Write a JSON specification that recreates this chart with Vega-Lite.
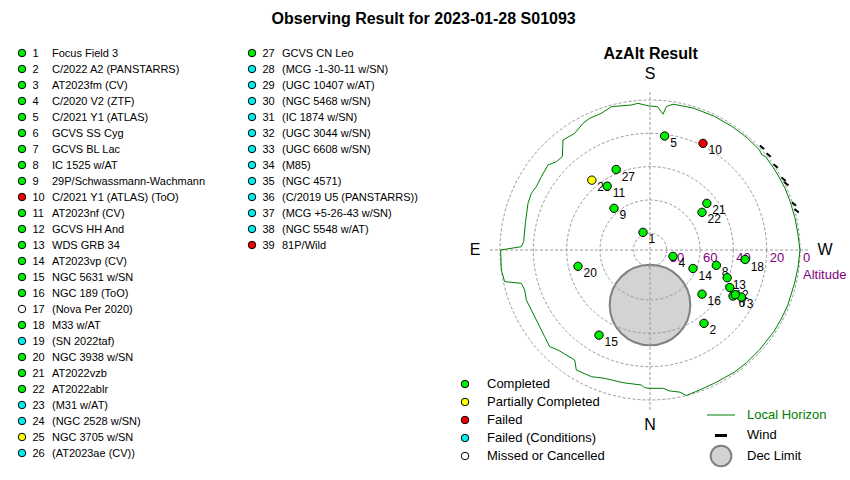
{
  "$schema": "https://vega.github.io/schema/vega-lite/v6.json",
  "width": 850,
  "height": 480,
  "autosize": {"type": "fit", "contains": "padding"},
  "padding": 0,
  "background": "white",
  "config": {"view": {"stroke": null}, "axis": {"disable": true}, "font": "Liberation Sans"},
  "datasets": {
    "rings": [{"x": 0, "y": 0, "zd": 10}, {"x": 0, "y": 0, "zd": 30}, {"x": 0, "y": 0, "zd": 50}, {"x": 0, "y": 0, "zd": 70}, {"x": 0, "y": 0, "zd": 90}],
    "cross": [{"x": -96, "y": 0, "x2": 96, "y2": 0}, {"x": 0, "y": -96, "x2": 0, "y2": 96}],
    "horizon": [
      {"i": 0, "x": -89.6, "y": 0}, {"i": 1, "x": -77.2, "y": 2}, {"i": 2, "x": -75.8, "y": 5}, {"i": 3, "x": -74.8, "y": 16},
      {"i": 4, "x": -73.2, "y": 28}, {"i": 5, "x": -71.2, "y": 34}, {"i": 6, "x": -68.2, "y": 38}, {"i": 7, "x": -65.2, "y": 44},
      {"i": 8, "x": -61.2, "y": 51}, {"i": 9, "x": -56.2, "y": 53}, {"i": 10, "x": -52.6, "y": 56}, {"i": 11, "x": -52.2, "y": 66},
      {"i": 12, "x": -45.2, "y": 70}, {"i": 13, "x": -40.2, "y": 76}, {"i": 14, "x": -36.2, "y": 79}, {"i": 15, "x": -29.2, "y": 82},
      {"i": 16, "x": -23.2, "y": 86}, {"i": 17, "x": -11.2, "y": 87}, {"i": 18, "x": -7.2, "y": 88}, {"i": 19, "x": -1, "y": 86.5},
      {"i": 20, "x": 4.5, "y": 86}, {"i": 21, "x": 7.8, "y": 81.5}, {"i": 22, "x": 9.8, "y": 86}, {"i": 23, "x": 13.8, "y": 87.5},
      {"i": 24, "x": 25.8, "y": 85.2}, {"i": 25, "x": 38.5, "y": 80.3}, {"i": 26, "x": 49.7, "y": 73.8}, {"i": 27, "x": 57.8, "y": 67.7},
      {"i": 28, "x": 65.5, "y": 60.3}, {"i": 29, "x": 67.3, "y": 57.0}, {"i": 30, "x": 69.2, "y": 56.2}, {"i": 31, "x": 73.8, "y": 49.7},
      {"i": 32, "x": 77.5, "y": 43.7}, {"i": 33, "x": 81.1, "y": 36.8}, {"i": 34, "x": 84.1, "y": 29.1}, {"i": 35, "x": 86.9, "y": 19.6},
      {"i": 36, "x": 88.7, "y": 9.9}, {"i": 37, "x": 90, "y": 0}, {"i": 38, "x": 88.9, "y": -9.9}, {"i": 39, "x": 86.8, "y": -19.8},
      {"i": 40, "x": 82.5, "y": -33.5}, {"i": 41, "x": 78.7, "y": -41.4}, {"i": 42, "x": 74.3, "y": -49}, {"i": 43, "x": 65.6, "y": -60},
      {"i": 44, "x": 57.8, "y": -67.7}, {"i": 45, "x": 50.6, "y": -73.3}, {"i": 46, "x": 39.5, "y": -79.5}, {"i": 47, "x": 29.8, "y": -84},
      {"i": 48, "x": 21.8, "y": -87.3}, {"i": 49, "x": 18, "y": -85.3}, {"i": 50, "x": 11.5, "y": -84.5}, {"i": 51, "x": 8, "y": -83},
      {"i": 52, "x": -0.2, "y": -83}, {"i": 53, "x": -3.2, "y": -82.6}, {"i": 54, "x": -5.2, "y": -81}, {"i": 55, "x": -13.2, "y": -80},
      {"i": 56, "x": -16.2, "y": -79.6}, {"i": 57, "x": -27.2, "y": -77}, {"i": 58, "x": -35.2, "y": -76}, {"i": 59, "x": -44.2, "y": -72},
      {"i": 60, "x": -45.2, "y": -66}, {"i": 61, "x": -55.2, "y": -60}, {"i": 62, "x": -60.2, "y": -58}, {"i": 63, "x": -63.2, "y": -52},
      {"i": 64, "x": -67.2, "y": -44}, {"i": 65, "x": -71.2, "y": -36}, {"i": 66, "x": -74.2, "y": -30}, {"i": 67, "x": -75.2, "y": -24},
      {"i": 68, "x": -77.2, "y": -20}, {"i": 69, "x": -87.2, "y": -19}, {"i": 70, "x": -89.2, "y": -12}, {"i": 71, "x": -89.6, "y": 0}
    ],
    "wind": [{"x": 67.2, "y": 61.6}, {"x": 71.2, "y": 57}, {"x": 75.4, "y": 50.4}, {"x": 80.2, "y": 42.4}, {"x": 81.8, "y": 39.8}, {"x": 86.4, "y": 27.6}, {"x": 88, "y": 23.6}],
    "targets": [
      {"id": 1, "x": -4.2, "y": 10.6, "status": "Completed"},
      {"id": 2, "x": 32.4, "y": -44, "status": "Completed"},
      {"id": 3, "x": 54.8, "y": -28.2, "status": "Completed"},
      {"id": 4, "x": 13.8, "y": -3.8, "status": "Completed"},
      {"id": 5, "x": 8.8, "y": 68.4, "status": "Completed"},
      {"id": 6, "x": 49.8, "y": -27.6, "status": "Completed"},
      {"id": 7, "x": 51.2, "y": -26.8, "status": "Completed"},
      {"id": 8, "x": 39.8, "y": -9.2, "status": "Completed"},
      {"id": 9, "x": -21.6, "y": 25, "status": "Completed"},
      {"id": 10, "x": 31.8, "y": 64, "status": "Failed"},
      {"id": 11, "x": -25.7, "y": 38.3, "status": "Completed"},
      {"id": 12, "x": 47.9, "y": -22.5, "status": "Completed"},
      {"id": 13, "x": 46.3, "y": -16.6, "status": "Completed"},
      {"id": 14, "x": 25.8, "y": -11.1, "status": "Completed"},
      {"id": 15, "x": -30.6, "y": -51.1, "status": "Completed"},
      {"id": 16, "x": 31.2, "y": -26.5, "status": "Completed"},
      {"id": 18, "x": 57.1, "y": -5.7, "status": "Completed"},
      {"id": 20, "x": -43.2, "y": -9.8, "status": "Completed"},
      {"id": 21, "x": 34.1, "y": 28, "status": "Completed"},
      {"id": 22, "x": 31.2, "y": 22.6, "status": "Completed"},
      {"id": 25, "x": -34.9, "y": 41.9, "status": "Partially Completed"},
      {"id": 27, "x": -20.3, "y": 48.3, "status": "Completed"}
    ],
    "list": [
      {"id": 1, "name": "Focus Field 3", "status": "Completed", "col": 0, "row": 0},
      {"id": 2, "name": "C/2022 A2 (PANSTARRS)", "status": "Completed", "col": 0, "row": 1},
      {"id": 3, "name": "AT2023fm (CV)", "status": "Completed", "col": 0, "row": 2},
      {"id": 4, "name": "C/2020 V2 (ZTF)", "status": "Completed", "col": 0, "row": 3},
      {"id": 5, "name": "C/2021 Y1 (ATLAS)", "status": "Completed", "col": 0, "row": 4},
      {"id": 6, "name": "GCVS SS Cyg", "status": "Completed", "col": 0, "row": 5},
      {"id": 7, "name": "GCVS BL Lac", "status": "Completed", "col": 0, "row": 6},
      {"id": 8, "name": "IC 1525 w/AT", "status": "Completed", "col": 0, "row": 7},
      {"id": 9, "name": "29P/Schwassmann-Wachmann", "status": "Completed", "col": 0, "row": 8},
      {"id": 10, "name": "C/2021 Y1 (ATLAS) (ToO)", "status": "Failed", "col": 0, "row": 9},
      {"id": 11, "name": "AT2023nf (CV)", "status": "Completed", "col": 0, "row": 10},
      {"id": 12, "name": "GCVS HH And", "status": "Completed", "col": 0, "row": 11},
      {"id": 13, "name": "WDS GRB 34", "status": "Completed", "col": 0, "row": 12},
      {"id": 14, "name": "AT2023vp (CV)", "status": "Completed", "col": 0, "row": 13},
      {"id": 15, "name": "NGC 5631 w/SN", "status": "Completed", "col": 0, "row": 14},
      {"id": 16, "name": "NGC 189 (ToO)", "status": "Completed", "col": 0, "row": 15},
      {"id": 17, "name": "\u00a0(Nova Per 2020)", "status": "Missed or Cancelled", "col": 0, "row": 16},
      {"id": 18, "name": "M33 w/AT", "status": "Completed", "col": 0, "row": 17},
      {"id": 19, "name": "\u00a0(SN 2022taf)", "status": "Failed (Conditions)", "col": 0, "row": 18},
      {"id": 20, "name": "NGC 3938 w/SN", "status": "Completed", "col": 0, "row": 19},
      {"id": 21, "name": "AT2022vzb", "status": "Completed", "col": 0, "row": 20},
      {"id": 22, "name": "AT2022ablr", "status": "Completed", "col": 0, "row": 21},
      {"id": 23, "name": "\u00a0(M31 w/AT)", "status": "Failed (Conditions)", "col": 0, "row": 22},
      {"id": 24, "name": "\u00a0(NGC 2528 w/SN)", "status": "Failed (Conditions)", "col": 0, "row": 23},
      {"id": 25, "name": "NGC 3705 w/SN", "status": "Partially Completed", "col": 0, "row": 24},
      {"id": 26, "name": "\u00a0(AT2023ae (CV))", "status": "Failed (Conditions)", "col": 0, "row": 25},
      {"id": 27, "name": "GCVS CN Leo", "status": "Completed", "col": 1, "row": 0},
      {"id": 28, "name": "\u00a0(MCG -1-30-11 w/SN)", "status": "Failed (Conditions)", "col": 1, "row": 1},
      {"id": 29, "name": "\u00a0(UGC 10407 w/AT)", "status": "Failed (Conditions)", "col": 1, "row": 2},
      {"id": 30, "name": "\u00a0(NGC 5468 w/SN)", "status": "Failed (Conditions)", "col": 1, "row": 3},
      {"id": 31, "name": "\u00a0(IC 1874 w/SN)", "status": "Failed (Conditions)", "col": 1, "row": 4},
      {"id": 32, "name": "\u00a0(UGC 3044 w/SN)", "status": "Failed (Conditions)", "col": 1, "row": 5},
      {"id": 33, "name": "\u00a0(UGC 6608 w/SN)", "status": "Failed (Conditions)", "col": 1, "row": 6},
      {"id": 34, "name": "\u00a0(M85)", "status": "Failed (Conditions)", "col": 1, "row": 7},
      {"id": 35, "name": "\u00a0(NGC 4571)", "status": "Failed (Conditions)", "col": 1, "row": 8},
      {"id": 36, "name": "\u00a0(C/2019 U5 (PANSTARRS))", "status": "Failed (Conditions)", "col": 1, "row": 9},
      {"id": 37, "name": "\u00a0(MCG +5-26-43 w/SN)", "status": "Failed (Conditions)", "col": 1, "row": 10},
      {"id": 38, "name": "\u00a0(NGC 5548 w/AT)", "status": "Failed (Conditions)", "col": 1, "row": 11},
      {"id": 39, "name": "81P/Wild", "status": "Failed", "col": 1, "row": 12}
    ],
    "legend": [
      {"i": 0, "status": "Completed"},
      {"i": 1, "status": "Partially Completed"},
      {"i": 2, "status": "Failed"},
      {"i": 3, "status": "Failed (Conditions)"},
      {"i": 4, "status": "Missed or Cancelled"}
    ]
  },
  "layer": [
    {
      "encoding": {
        "x": {"field": "x", "type": "quantitative", "scale": {"domain": [-390, 120], "nice": false, "zero": false}, "axis": null},
        "y": {"field": "y", "type": "quantitative", "scale": {"domain": [-138, 150], "nice": false, "zero": false}, "axis": null}
      },
      "layer": [
        {"data": {"values": [{"x": 0, "y": -33}]}, "mark": {"type": "point", "shape": "circle", "filled": true, "fill": "#d3d3d3", "stroke": "#808080", "strokeWidth": 2, "size": 6500, "opacity": 1}},
        {"data": {"name": "rings"}, "mark": {"type": "point", "shape": "circle", "filled": false, "stroke": "#9a9a9a", "strokeWidth": 1, "strokeDash": [3, 2], "opacity": 1},
          "encoding": {"size": {"field": "zd", "type": "quantitative", "scale": {"type": "pow", "exponent": 2, "domain": [0, 90], "range": [0, 90000]}, "legend": null}}},
        {"data": {"name": "cross"}, "mark": {"type": "rule", "color": "#9a9a9a", "strokeWidth": 1, "strokeDash": [3, 2]},
          "encoding": {"x2": {"field": "x2"}, "y2": {"field": "y2"}}},
        {"data": {"name": "horizon"}, "mark": {"type": "line", "color": "#008000", "strokeWidth": 1},
          "encoding": {"order": {"field": "i", "type": "quantitative"}}},
        {"data": {"name": "wind"}, "mark": {"type": "point", "shape": "stroke", "stroke": "#000000", "strokeWidth": 2, "size": 30, "angle": 40, "opacity": 1}},
        {"data": {"values": [{"x": 10, "y": 0, "t": "80"}, {"x": 30, "y": 0, "t": "60"}, {"x": 50, "y": 0, "t": "40"}, {"x": 70, "y": 0, "t": "20"}, {"x": 90, "y": 0, "t": "0"}]},
          "mark": {"type": "text", "align": "left", "baseline": "middle", "dx": 3, "dy": 7.5, "fontSize": 13, "color": "#800080"},
          "encoding": {"text": {"field": "t"}}},
        {"data": {"values": [{"x": 90, "y": 0, "t": "Altitude"}]},
          "mark": {"type": "text", "align": "left", "baseline": "middle", "dx": 3, "dy": 25, "fontSize": 13, "color": "#800080"},
          "encoding": {"text": {"field": "t"}}},
        {"data": {"name": "targets"}, "mark": {"type": "text", "align": "left", "baseline": "middle", "dx": 5.5, "dy": 7, "fontSize": 12, "color": "#000000"},
          "encoding": {"text": {"field": "id"}}},
        {"data": {"name": "targets"}, "mark": {"type": "point", "shape": "circle", "filled": true, "stroke": "#000000", "strokeWidth": 1, "size": 70, "opacity": 1},
          "encoding": {"fill": {"field": "status", "type": "nominal", "scale": {"domain": ["Completed", "Partially Completed", "Failed", "Failed (Conditions)", "Missed or Cancelled"], "range": ["#00ee00", "#ffff00", "#ee0000", "#00eeee", "#ffffff"]}, "legend": null}}},
        {"data": {"values": [{"x": 0, "y": 105.5, "t": "S"}, {"x": -105, "y": 0, "t": "E"}, {"x": 105, "y": 0, "t": "W"}, {"x": 0, "y": -105, "t": "N"}]},
          "mark": {"type": "text", "align": "center", "baseline": "middle", "fontSize": 16, "color": "#000000"},
          "encoding": {"text": {"field": "t"}}},
        {"data": {"values": [{"x": 0.4, "y": 117.4, "t": "AzAlt Result"}, {"x": -135.8, "y": 138.6, "t": "Observing Result for 2023-01-28 S01093"}]},
          "mark": {"type": "text", "align": "center", "baseline": "middle", "fontSize": 16, "fontWeight": "bold", "color": "#000000"},
          "encoding": {"text": {"field": "t"}}}
      ]
    },
    {
      "data": {"name": "list"},
      "encoding": {
        "x": {"field": "col", "type": "quantitative", "scale": {"domain": [-0.09565, 3.6], "nice": false, "zero": false}, "axis": null},
        "y": {"field": "row", "type": "quantitative", "scale": {"domain": [-3.3125, 26.6875], "reverse": true, "nice": false, "zero": false}, "axis": null}
      },
      "layer": [
        {"mark": {"type": "point", "shape": "circle", "filled": true, "stroke": "#000000", "strokeWidth": 1, "opacity": 1},
          "encoding": {
            "fill": {"field": "status", "type": "nominal", "scale": {"domain": ["Completed", "Partially Completed", "Failed", "Failed (Conditions)", "Missed or Cancelled"], "range": ["#00ee00", "#ffff00", "#ee0000", "#00eeee", "#ffffff"]}, "legend": null},
            "size": {"field": "status", "type": "nominal", "scale": {"domain": ["Completed", "Partially Completed", "Failed", "Failed (Conditions)", "Missed or Cancelled"], "range": [56, 56, 56, 22, 22]}, "legend": null}
          }},
        {"mark": {"type": "text", "align": "left", "baseline": "middle", "dx": 10.5, "dy": 0.5, "fontSize": 11, "color": "#000000"},
          "encoding": {"text": {"field": "id"}}},
        {"mark": {"type": "text", "align": "left", "baseline": "middle", "dx": 30, "dy": 0.5, "fontSize": 11, "color": "#000000"},
          "encoding": {"text": {"field": "name"}}}
      ]
    },
    {
      "data": {"name": "legend"},
      "encoding": {
        "x": {"datum": 0, "type": "quantitative", "scale": {"domain": [-465, 385], "nice": false, "zero": false}, "axis": null},
        "y": {"field": "i", "type": "quantitative", "scale": {"domain": [-21.3333, 5.3333], "reverse": true, "nice": false, "zero": false}, "axis": null}
      },
      "layer": [
        {"mark": {"type": "point", "shape": "circle", "filled": true, "stroke": "#000000", "strokeWidth": 1, "opacity": 1},
          "encoding": {
            "fill": {"field": "status", "type": "nominal", "scale": {"domain": ["Completed", "Partially Completed", "Failed", "Failed (Conditions)", "Missed or Cancelled"], "range": ["#00ee00", "#ffff00", "#ee0000", "#00eeee", "#ffffff"]}, "legend": null},
            "size": {"field": "status", "type": "nominal", "scale": {"domain": ["Completed", "Partially Completed", "Failed", "Failed (Conditions)", "Missed or Cancelled"], "range": [56, 56, 56, 22, 22]}, "legend": null}
          }},
        {"mark": {"type": "text", "align": "left", "baseline": "middle", "dx": 22, "fontSize": 13, "color": "#000000"},
          "encoding": {"text": {"field": "status"}}}
      ]
    },
    {
      "encoding": {
        "x": {"datum": 0, "type": "quantitative", "scale": {"domain": [-721, 129], "nice": false, "zero": false}, "axis": null},
        "y": {"field": "i", "type": "quantitative", "scale": {"domain": [-20.244, 3.171], "reverse": true, "nice": false, "zero": false}, "axis": null}
      },
      "layer": [
        {"data": {"values": [{"i": 0}]}, "mark": {"type": "point", "shape": "stroke", "stroke": "#008000", "strokeWidth": 1, "size": 784, "opacity": 1}},
        {"data": {"values": [{"i": 1}]}, "mark": {"type": "point", "shape": "stroke", "stroke": "#000000", "strokeWidth": 3, "size": 144, "opacity": 1}},
        {"data": {"values": [{"i": 2}]}, "mark": {"type": "point", "shape": "circle", "filled": true, "fill": "#d3d3d3", "stroke": "#808080", "strokeWidth": 2, "size": 430, "opacity": 1}},
        {"data": {"values": [{"i": 0, "label": "Local Horizon"}, {"i": 1, "label": "Wind"}, {"i": 2, "label": "Dec Limit"}]},
          "mark": {"type": "text", "align": "left", "baseline": "middle", "dx": 26, "fontSize": 13},
          "encoding": {"text": {"field": "label"}, "color": {"field": "label", "type": "nominal", "scale": {"domain": ["Local Horizon", "Wind", "Dec Limit"], "range": ["#008000", "#000000", "#000000"]}, "legend": null}}}
      ]
    }
  ],
  "resolve": {"scale": {"x": "independent", "y": "independent", "fill": "independent", "size": "independent", "color": "independent", "stroke": "independent"}}
}
